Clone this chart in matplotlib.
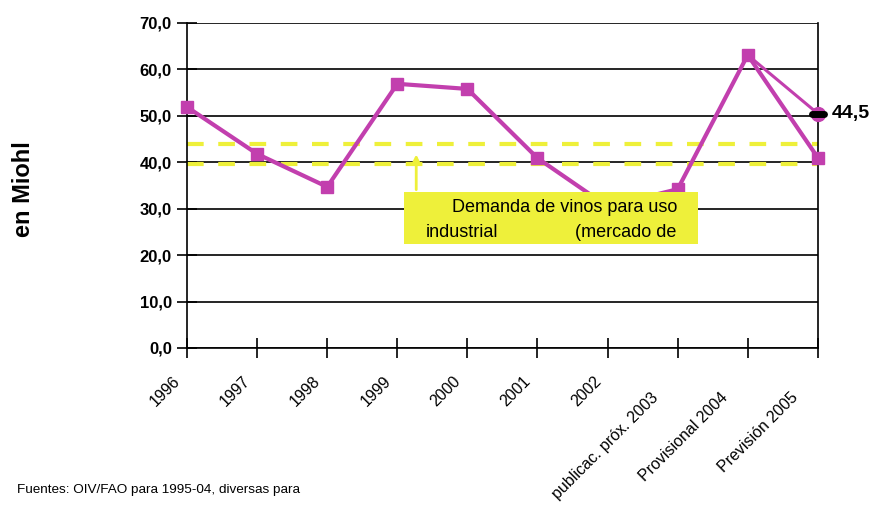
import numpy as np
import matplotlib.pyplot as plt
from matplotlib.markers import MarkerStyle
from matplotlib.transforms import ScaledTranslation

years = ['1996', '1997', '1998', '1999', '2000', '2001', '2002',
         'publicac. próx. 2003', 'Provisional 2004', 'Previsión 2005']
produccion = [51.9, 41.8, 34.7, 56.9, 55.8, 40.9, 30.5, 34.2, 63.1, 41.0]
alt_idx = [8, 9]
alternativa = [63.1, 50.5]
demanda_alta = 44.0
demanda_baja = 39.6
prevision_txt = '44,5'

purple = '#C23FAE'
yellow = '#EEF03A'
narrow = ['Liberation Sans Narrow', 'Liberation Sans']

plt.rcParams['font.family'] = ['Liberation Sans', 'DejaVu Sans']

fig = plt.figure(figsize=(8.7, 5.11), dpi=100)
ax = fig.add_axes([0.215, 0.319, 0.725, 0.636])

x = np.arange(len(years))

for v in range(0, 80, 10):
    ax.axhline(v, color='black', lw=1.2, zorder=1)

ax.axhline(demanda_alta, color=yellow, lw=3, ls=(0, (4, 3.5)), zorder=2)
ax.axhline(demanda_baja, color=yellow, lw=3, ls=(0, (4, 3.5)), zorder=2)

# escenario alternativo 2004-2005
ax.plot(alt_idx, alternativa, color=purple, lw=2.2, zorder=3, clip_on=False)
ax.plot(alt_idx[1], alternativa[1], marker='o', ms=10, color=purple, zorder=4, clip_on=False)
ax.plot(alt_idx[1], alternativa[1], marker=MarkerStyle('_', capstyle='round'), ms=8, mew=5,
        color='black', zorder=5, clip_on=False)
ax.text(alt_idx[1] + 0.2, alternativa[1], prevision_txt, fontsize=14, fontweight='bold',
        va='center', ha='left', clip_on=False)

ax.plot(x, produccion, color=purple, lw=3, marker='s', ms=8, zorder=3, clip_on=False)

# cuadro de texto con flecha
ax.annotate('', xy=(3.27, 42.3), xytext=(3.27, 33.5),
            arrowprops=dict(arrowstyle='-|>', color=yellow, lw=2, mutation_scale=12), zorder=6)
ax.add_patch(plt.Rectangle((3.09, 22.3), 4.2, 11.3, facecolor=yellow, edgecolor='none', zorder=6))
ax.text(5.39, 30.2, 'Demanda de vinos para uso', fontsize=13, ha='center', va='center', zorder=7)
ax.text(3.4, 24.8, 'industrial', fontsize=13, ha='left', va='center', zorder=7)
ax.text(5.54, 24.8, '(mercado de', fontsize=13, ha='left', va='center', zorder=7)

ax.set_xlim(0, 9)
ax.set_ylim(0, 70)
ax.set_yticks(range(0, 80, 10))
ax.set_yticklabels([f'{v},0' for v in range(0, 80, 10)], fontsize=12, fontweight='bold')
ax.set_xticks(x)
ax.set_xticklabels([])

# etiquetas del eje x giradas 45 grados (las largas van algo mas abajo)
for i, name in zip(x, years):
    if len(name) > 4:
        off = ScaledTranslation(-0.22, -0.47, fig.dpi_scale_trans)
    else:
        off = ScaledTranslation(-0.09, -0.31, fig.dpi_scale_trans)
    ax.text(i, 0, name, rotation=45, ha='right', va='center', rotation_mode='anchor',
            fontsize=11.5, family=narrow, transform=ax.get_xaxis_transform() + off)

ax.tick_params(axis='x', direction='inout', length=14, width=1.2)
ax.tick_params(axis='y', direction='inout', length=14, width=1.2, pad=4)
for s in ax.spines.values():
    s.set_linewidth(1.2)
ax.spines['top'].set_visible(False)

fig.text(0.027, 0.63, 'en Miohl', rotation=90, fontsize=17, fontweight='bold',
         ha='center', va='center')
fig.text(0.02, 0.035, 'Fuentes: OIV/FAO para 1995-04, diversas para', fontsize=9.7,
         family=narrow)

fig.savefig('out.png', dpi=100)
